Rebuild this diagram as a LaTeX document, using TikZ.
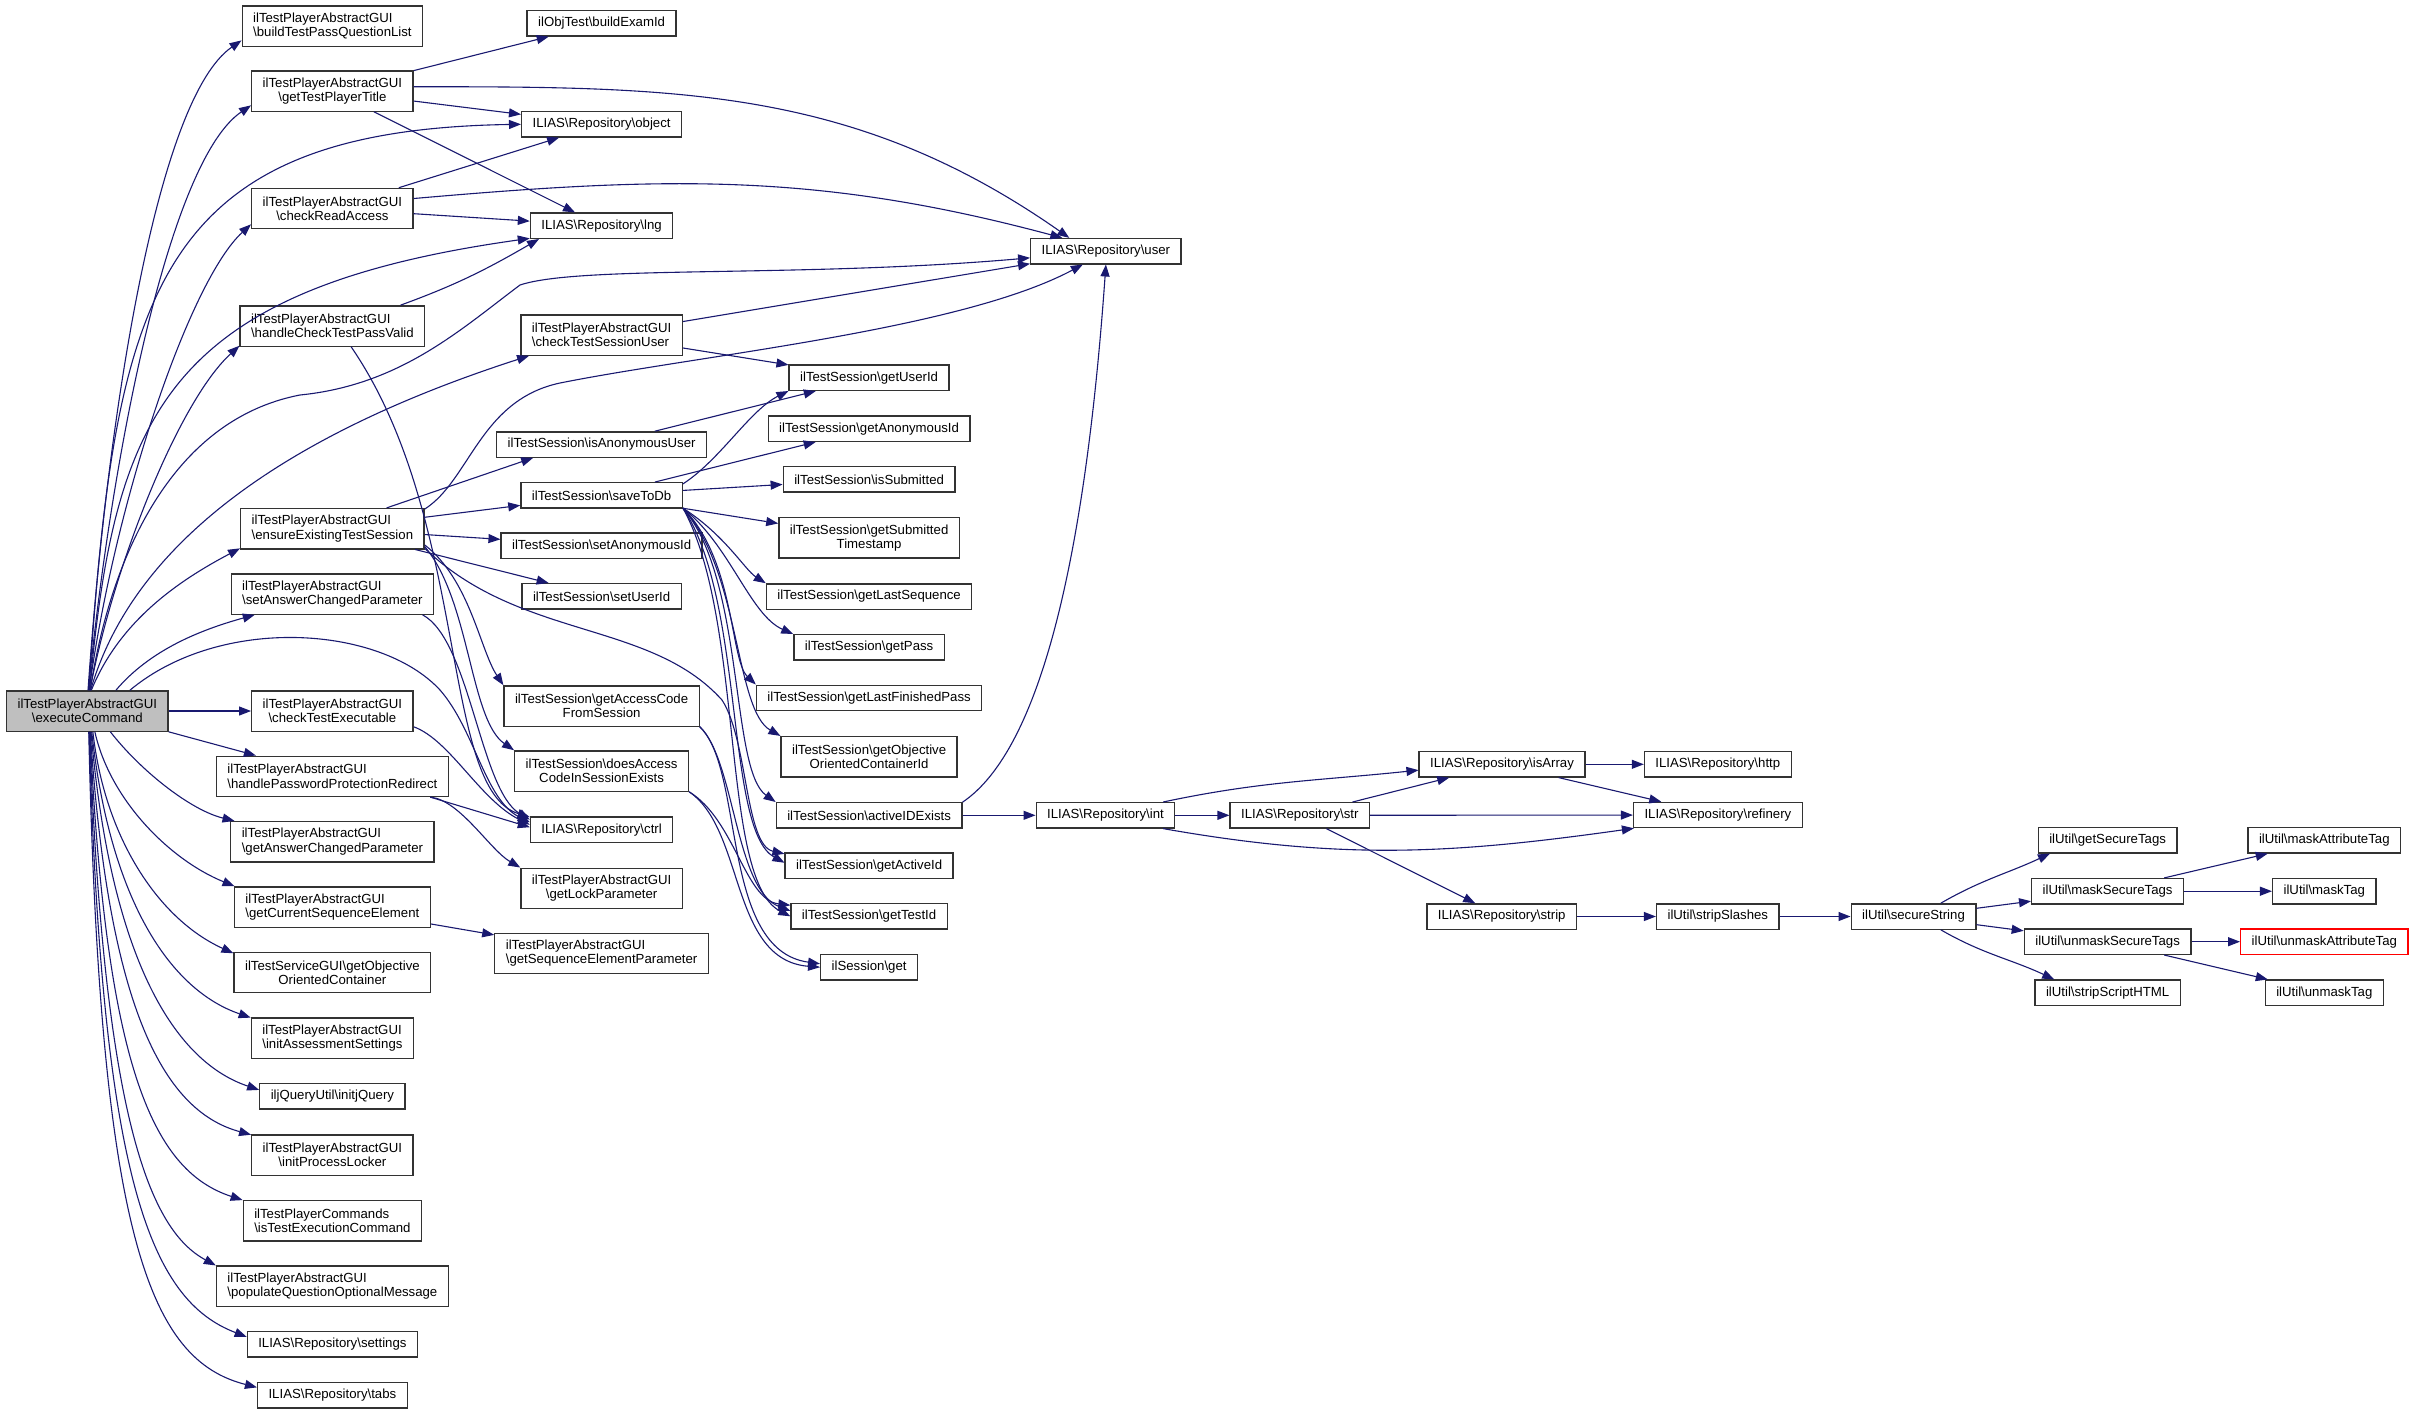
\documentclass[tikz,border=0pt]{standalone}
\usepackage{fontspec}
\setmainfont{Liberation Sans}
\usetikzlibrary{arrows.meta}

\definecolor{edgeblue}{HTML}{191970}
\definecolor{boxline}{HTML}{333333}
\definecolor{rootfill}{HTML}{BFBFBF}
\newcommand{\nsep}{\textbackslash}

\tikzset{
  fn/.style={draw=boxline, line width=1.3pt, fill=white, inner xsep=11pt, inner ysep=3pt,
    minimum height=25.3pt, font=\fontsize{13.2}{14.3}\selectfont},
  fnc/.style={fn, align=center, minimum height=40.3pt},
  fnl/.style={fn, align=left, minimum height=40.3pt},
  call/.style={draw=edgeblue, line width=1.1pt, -{Triangle[length=12pt,width=9pt]}}
}

\begin{document}
\begin{tikzpicture}[x=1pt, y=-1pt]
\fill[white] (0,0) rectangle (2415,1414);
\useasboundingbox (0,0) rectangle (2415,1414);

% Caller
\node[fnc, fill=rootfill] (ec) at (87.3,711) {ilTestPlayerAbstractGUI\\\nsep executeCommand};

% First column
\node[fnl] (btpql) at (332.4,26) {ilTestPlayerAbstractGUI\\\nsep buildTestPassQuestionList};
\node[fnc] (gtpt) at (332.4,91) {ilTestPlayerAbstractGUI\\\nsep getTestPlayerTitle};
\node[fnc] (cra) at (332.4,208.5) {ilTestPlayerAbstractGUI\\\nsep checkReadAccess};
\node[fnl] (hctpv) at (332.4,326) {ilTestPlayerAbstractGUI\\\nsep handleCheckTestPassValid};
\node[fnl] (ensure) at (332.4,528.7) {ilTestPlayerAbstractGUI\\\nsep ensureExistingTestSession};
\node[fnl] (sacp) at (332.4,594) {ilTestPlayerAbstractGUI\\\nsep setAnswerChangedParameter};
\node[fnc] (cte) at (332.4,711) {ilTestPlayerAbstractGUI\\\nsep checkTestExecutable};
\node[fnl] (hppr) at (332.4,776.3) {ilTestPlayerAbstractGUI\\\nsep handlePasswordProtectionRedirect};
\node[fnl] (gacp) at (332.4,841.7) {ilTestPlayerAbstractGUI\\\nsep getAnswerChangedParameter};
\node[fnl] (gcse) at (332.4,907) {ilTestPlayerAbstractGUI\\\nsep getCurrentSequenceElement};
\node[fnc] (gooc) at (332.4,972.5) {ilTestServiceGUI\nsep getObjective\\OrientedContainer};
\node[fnl] (ias) at (332.4,1038) {ilTestPlayerAbstractGUI\\\nsep initAssessmentSettings};
\node[fn] (ijq) at (332.4,1096.3) {iljQueryUtil\nsep initjQuery};
\node[fnc] (ipl) at (332.4,1155) {ilTestPlayerAbstractGUI\\\nsep initProcessLocker};
\node[fnl] (itec) at (332.4,1220.8) {ilTestPlayerCommands\\\nsep isTestExecutionCommand};
\node[fnl] (pqom) at (332.4,1286) {ilTestPlayerAbstractGUI\\\nsep populateQuestionOptionalMessage};
\node[fn] (settings) at (332.4,1344.3) {ILIAS\nsep Repository\nsep settings};
\node[fn] (tabs) at (332.4,1395.3) {ILIAS\nsep Repository\nsep tabs};

% Second column
\node[fn] (bei) at (601.6,23.3) {ilObjTest\nsep buildExamId};
\node[fn] (object) at (601.6,124.3) {ILIAS\nsep Repository\nsep object};
\node[fn] (lng) at (601.6,225.7) {ILIAS\nsep Repository\nsep lng};
\node[fnl] (ctsu) at (601.6,335) {ilTestPlayerAbstractGUI\\\nsep checkTestSessionUser};
\node[fn] (iau) at (601.6,444.5) {ilTestSession\nsep isAnonymousUser};
\node[fn] (std) at (601.6,495.3) {ilTestSession\nsep saveToDb};
\node[fn] (said) at (601.6,545.7) {ilTestSession\nsep setAnonymousId};
\node[fn] (suid) at (601.6,596.3) {ilTestSession\nsep setUserId};
\node[fnc] (gac) at (601.6,706) {ilTestSession\nsep getAccessCode\\FromSession};
\node[fnc] (daci) at (601.6,771) {ilTestSession\nsep doesAccess\\CodeInSessionExists};
\node[fn] (ctrl) at (601.6,829.7) {ILIAS\nsep Repository\nsep ctrl};
\node[fnc] (glp) at (601.6,888.3) {ilTestPlayerAbstractGUI\\\nsep getLockParameter};
\node[fnl] (gsep) at (601.6,953.3) {ilTestPlayerAbstractGUI\\\nsep getSequenceElementParameter};

% Third column
\node[fn] (gui) at (869.1,377.7) {ilTestSession\nsep getUserId};
\node[fn] (gaid) at (869.1,428.7) {ilTestSession\nsep getAnonymousId};
\node[fn] (isub) at (869.1,479.3) {ilTestSession\nsep isSubmitted};
\node[fnc] (gsts) at (869.1,537.8) {ilTestSession\nsep getSubmitted\\Timestamp};
\node[fn] (gls) at (869.1,596.5) {ilTestSession\nsep getLastSequence};
\node[fn] (gp) at (869.1,647.3) {ilTestSession\nsep getPass};
\node[fn] (glfp) at (869.1,697.8) {ilTestSession\nsep getLastFinishedPass};
\node[fnc] (gocid) at (869.1,756.7) {ilTestSession\nsep getObjective\\OrientedContainerId};
\node[fn] (aide) at (869.1,815.3) {ilTestSession\nsep activeIDExists};
\node[fn] (gai) at (869.1,865.7) {ilTestSession\nsep getActiveId};
\node[fn] (gtid) at (869.1,916.3) {ilTestSession\nsep getTestId};
\node[fn] (sget) at (869.1,967.2) {ilSession\nsep get};

% Repository and ilUtil
\node[fn] (user) at (1105.9,251.2) {ILIAS\nsep Repository\nsep user};
\node[fn] (rint) at (1105.5,815.3) {ILIAS\nsep Repository\nsep int};
\node[fn] (rstr) at (1299.8,815.3) {ILIAS\nsep Repository\nsep str};
\node[fn] (isarr) at (1502,764.3) {ILIAS\nsep Repository\nsep isArray};
\node[fn] (http) at (1717.8,764.3) {ILIAS\nsep Repository\nsep http};
\node[fn] (refin) at (1717.9,815) {ILIAS\nsep Repository\nsep refinery};
\node[fn] (strip) at (1501.7,916.5) {ILIAS\nsep Repository\nsep strip};
\node[fn] (sslash) at (1717.8,916.5) {ilUtil\nsep stripSlashes};
\node[fn] (sstr) at (1913.5,916.5) {ilUtil\nsep secureString};
\node[fn] (gst) at (2107.6,840.3) {ilUtil\nsep getSecureTags};
\node[fn] (mst) at (2107.6,891.2) {ilUtil\nsep maskSecureTags};
\node[fn] (ust) at (2107.6,941.7) {ilUtil\nsep unmaskSecureTags};
\node[fn] (ssh) at (2107.6,992.7) {ilUtil\nsep stripScriptHTML};
\node[fn] (mat) at (2324.3,840.3) {ilUtil\nsep maskAttributeTag};
\node[fn] (mtag) at (2324.3,891.2) {ilUtil\nsep maskTag};
\node[fn, draw=red] (uat) at (2324.3,941.7) {ilUtil\nsep unmaskAttributeTag};
\node[fn] (utag) at (2324.3,992.7) {ilUtil\nsep unmaskTag};

% Calls of executeCommand, upwards
\draw[call] (ec.88) .. controls (106,430) and (155,100) .. (btpql.189);
\draw[call] (ec.87) .. controls (112,450) and (170,160) .. (gtpt.190);
\draw[call] (ec.86) .. controls (115,300) and (150,130) .. (object.west);
\draw[call] (ec.85) .. controls (115,500) and (190,280) .. (cra.191);
\draw[call] (ec.84) .. controls (115,420) and (160,290) .. (lng.190);
\draw[call] (ec.83) .. controls (115,560) and (180,400) .. (hctpv.192);
\draw[call] (ec.82) .. controls (110,560) and (170,420) .. (300,395)
  .. controls (400,385) and (460,330) .. (520,285)
  .. controls (580,265) and (800,278) .. (user.185);
\draw[call] (ec.81) .. controls (140,520) and (330,420) .. (ctsu.196);
\draw[call] (ec.79) .. controls (120,620) and (180,580) .. (ensure.192);
\draw[call] (ec.36) .. controls (150,650) and (200,630) .. (sacp.195);
\draw[call] (ec.26) .. controls (220,615) and (380,625) .. (440,690)
  .. controls (475,730) and (485,800) .. (ctrl.174);

% Calls of executeCommand, sideways and downwards
\draw[call] (ec.east) -- (cte.west);
\draw[call] (ec.south east) -- (hppr);
\draw[call] (ec.-42) .. controls (140,770) and (190,810) .. (gacp.168);
\draw[call] (ec.-70) .. controls (110,800) and (170,860) .. (gcse.168);
\draw[call] (ec.-75) .. controls (105,840) and (160,920) .. (gooc.169);
\draw[call] (ec.-78) .. controls (110,900) and (170,990) .. (ias.166);
\draw[call] (ec.-80) .. controls (110,950) and (170,1060) .. (ijq.175);
\draw[call] (ec.-82) .. controls (108,1000) and (160,1110) .. (ipl.166);
\draw[call] (ec.-83) .. controls (106,1060) and (150,1170) .. (itec.167);
\draw[call] (ec.-84) .. controls (104,1120) and (150,1230) .. (pqom.170);
\draw[call] (ec.-85) .. controls (102,1180) and (150,1300) .. (settings.175);
\draw[call] (ec.-86) .. controls (100,1240) and (150,1360) .. (tabs.174);

% First column calls
\draw[call] (gtpt) -- (bei);
\draw[call] (gtpt) -- (object);
\draw[call] (gtpt) -- (lng);
\draw[call] (gtpt.3) to[out=0, in=145] (user.160);
\draw[call] (cra) -- (object);
\draw[call] (cra) -- (lng);
\draw[call] (cra.7) to[out=5, in=165] (user.163);
\draw[call] (hctpv.17) to[out=20, in=210] (lng.192);
\draw[call] (hctpv.-48) .. controls (470,520) and (440,790) .. (ctrl.170);
\draw[call] (sacp.-13) .. controls (470,640) and (480,790) .. (ctrl.172);
\draw[call] (cte.-11.5) .. controls (450,740) and (480,800) .. (ctrl.176);
\draw[call] (hppr.-12.5) -- (ctrl.178);
\draw[call] (hppr.-12) .. controls (460,800) and (490,850) .. (glp.north west);
\draw[call] (gcse) -- (gsep);

% ensureExistingTestSession
\draw[call] (ensure.21) -- (iau.191);
\draw[call] (ensure) -- (std);
\draw[call] (ensure) -- (said);
\draw[call] (ensure) -- (suid);
\draw[call] (ensure.12) .. controls (470,480) and (480,400) .. (560,383)
  .. controls (700,355) and (960,330) .. (user.-150);
\draw[call] (ensure.-10) .. controls (470,580) and (480,650) .. (gac.north west);
\draw[call] (ensure.-11) .. controls (470,600) and (470,720) .. (daci.north west);
\draw[call] (ensure.-12) .. controls (520,640) and (650,620) .. (722,700)
  .. controls (748,740) and (745,845) .. (gai.172);

% Second column calls
\draw[call] (ctsu) -- (user);
\draw[call] (ctsu) -- (gui);
\draw[call] (iau) -- (gui);
\draw[call] (std.8) .. controls (720,460) and (750,410) .. (gui.south west);
\draw[call] (std) -- (gaid);
\draw[call] (std) -- (isub);
\draw[call] (std) -- (gsts);
\draw[call] (std.-9) .. controls (725,535) and (745,570) .. (gls.north west);
\draw[call] (std.-9) .. controls (730,545) and (750,615) .. (gp.north west);
\draw[call] (std.-9) .. controls (735,560) and (730,660) .. (glfp.north west);
\draw[call] (std.-9) .. controls (740,570) and (735,710) .. (gocid.north west);
\draw[call] (std.-9) .. controls (745,580) and (730,770) .. (aide.north west);
\draw[call] (std.-9) .. controls (745,600) and (725,830) .. (gai.178);
\draw[call] (std.-9) .. controls (745,620) and (720,880) .. (gtid.180);
\draw[call] (gac.south east) .. controls (735,760) and (735,890) .. (gtid.176);
\draw[call] (gac.south east) .. controls (745,770) and (720,950) .. (sget.176);
\draw[call] (daci.south east) .. controls (735,820) and (745,900) .. (gtid.172);
\draw[call] (daci.south east) .. controls (745,830) and (730,960) .. (sget.180);

% Right part
\draw[call] (aide.8) .. controls (1040,750) and (1085,560) .. (user.south);
\draw[call] (aide) -- (rint);
\draw[call] (rint) -- (rstr);
\draw[call] (rint.13) to[out=12, in=186] (isarr.184);
\draw[call] (rint.-13) to[out=-10, in=188] (refin.189);
\draw[call] (rstr) -- (isarr);
\draw[call] (rstr) -- (refin);
\draw[call] (rstr) -- (strip);
\draw[call] (isarr) -- (http);
\draw[call] (isarr) -- (refin);
\draw[call] (strip) -- (sslash);
\draw[call] (sslash) -- (sstr);
\draw[call] (sstr.26) to[out=30, in=205] (gst.193);
\draw[call] (sstr) -- (mst);
\draw[call] (sstr) -- (ust);
\draw[call] (sstr.-26) to[out=-30, in=155] (ssh.166);
\draw[call] (mst) -- (mat);
\draw[call] (mst) -- (mtag);
\draw[call] (ust) -- (uat);
\draw[call] (ust) -- (utag);
\end{tikzpicture}
\end{document}
